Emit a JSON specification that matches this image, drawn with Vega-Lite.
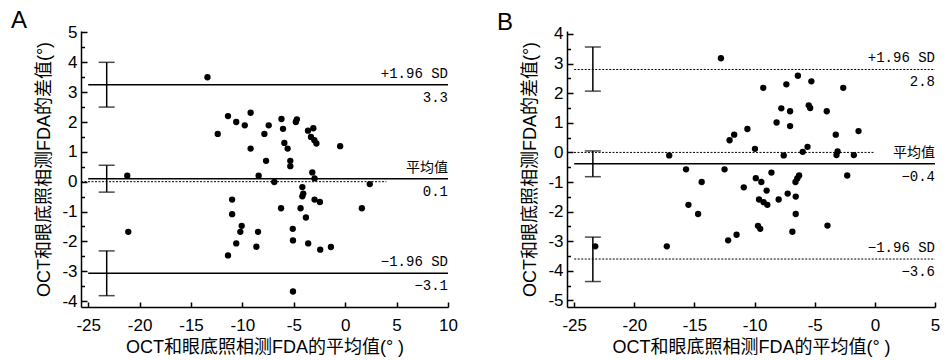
{
  "$schema": "https://vega.github.io/schema/vega-lite/v6.json",
  "background": "white",
  "padding": {"left": 10, "top": 9, "right": 5, "bottom": 5},
  "bounds": "flush",
  "spacing": 119,
  "datasets": {
    "ptsA": [
      {"mean": -13.4, "diff": 3.5}, {"mean": -11.4, "diff": 2.2}, {"mean": -10.6, "diff": 2.0}, {"mean": -9.2, "diff": 2.31},
      {"mean": -9.77, "diff": 1.89}, {"mean": -12.4, "diff": 1.6}, {"mean": -9.2, "diff": 1.11}, {"mean": -7.86, "diff": 1.6},
      {"mean": -7.44, "diff": 1.89}, {"mean": -6.2, "diff": 2.1}, {"mean": -6.05, "diff": 1.77}, {"mean": -4.7, "diff": 2.09},
      {"mean": -4.8, "diff": 2.0}, {"mean": -5.92, "diff": 1.3}, {"mean": -5.6, "diff": 1.11}, {"mean": -3.62, "diff": 1.71},
      {"mean": -3.1, "diff": 1.79}, {"mean": -3.33, "diff": 1.5}, {"mean": -3.0, "diff": 1.39}, {"mean": -2.8, "diff": 1.28},
      {"mean": -0.49, "diff": 1.19}, {"mean": -7.7, "diff": 0.7}, {"mean": -5.34, "diff": 0.7}, {"mean": -5.34, "diff": 0.52},
      {"mean": -3.2, "diff": 0.31}, {"mean": -2.98, "diff": 0.11}, {"mean": -8.42, "diff": 0.2}, {"mean": -21.2, "diff": 0.2},
      {"mean": -6.9, "diff": -0.01}, {"mean": 2.39, "diff": -0.08}, {"mean": -4.17, "diff": -0.18}, {"mean": -4.08, "diff": -0.4},
      {"mean": -4.17, "diff": -0.49}, {"mean": -11.0, "diff": -0.6}, {"mean": -2.98, "diff": -0.6}, {"mean": -2.46, "diff": -0.68},
      {"mean": -11.0, "diff": -1.09}, {"mean": -6.24, "diff": -0.89}, {"mean": -4.34, "diff": -0.89}, {"mean": -3.82, "diff": -1.2},
      {"mean": 1.62, "diff": -0.89}, {"mean": -10.07, "diff": -1.48}, {"mean": -10.2, "diff": -1.68}, {"mean": -8.48, "diff": -1.68},
      {"mean": -21.1, "diff": -1.68}, {"mean": -5.1, "diff": -1.58}, {"mean": -10.6, "diff": -2.07}, {"mean": -8.64, "diff": -2.18},
      {"mean": -11.4, "diff": -2.47}, {"mean": -5.08, "diff": -1.97}, {"mean": -3.6, "diff": -2.07}, {"mean": -2.43, "diff": -2.28},
      {"mean": -1.39, "diff": -2.19}, {"mean": -5.08, "diff": -3.68}
    ],
    "ptsB": [
      {"mean": -12.8, "diff": 3.18}, {"mean": -9.28, "diff": 2.18}, {"mean": -7.36, "diff": 2.3}, {"mean": -6.4, "diff": 2.59},
      {"mean": -5.28, "diff": 2.4}, {"mean": -2.63, "diff": 2.18}, {"mean": -7.78, "diff": 1.49}, {"mean": -7.05, "diff": 1.39},
      {"mean": -5.5, "diff": 1.59}, {"mean": -5.38, "diff": 1.5}, {"mean": -4.0, "diff": 1.39}, {"mean": -8.17, "diff": 1.01},
      {"mean": -7.05, "diff": 0.89}, {"mean": -10.6, "diff": 0.79}, {"mean": -11.7, "diff": 0.6}, {"mean": -12.08, "diff": 0.41},
      {"mean": -3.25, "diff": 0.6}, {"mean": -1.36, "diff": 0.72}, {"mean": -9.97, "diff": 0.12}, {"mean": -5.6, "diff": 0.19},
      {"mean": -6.0, "diff": 0.02}, {"mean": -7.58, "diff": -0.1}, {"mean": -17.1, "diff": -0.1}, {"mean": -3.1, "diff": 0.03},
      {"mean": -3.19, "diff": -0.09}, {"mean": -1.75, "diff": -0.09}, {"mean": -15.7, "diff": -0.57}, {"mean": -12.5, "diff": -0.57},
      {"mean": -8.6, "diff": -0.68}, {"mean": -9.9, "diff": -0.87}, {"mean": -6.3, "diff": -0.78}, {"mean": -6.45, "diff": -0.88},
      {"mean": -6.6, "diff": -1.0}, {"mean": -2.3, "diff": -0.78}, {"mean": -14.4, "diff": -1.0}, {"mean": -9.44, "diff": -1.0},
      {"mean": -10.9, "diff": -1.18}, {"mean": -9.0, "diff": -1.29}, {"mean": -9.63, "diff": -1.59}, {"mean": -9.25, "diff": -1.68},
      {"mean": -8.94, "diff": -1.77}, {"mean": -8.0, "diff": -1.59}, {"mean": -7.25, "diff": -1.39}, {"mean": -6.58, "diff": -1.49},
      {"mean": -6.58, "diff": -2.08}, {"mean": -15.5, "diff": -1.77}, {"mean": -14.7, "diff": -2.08}, {"mean": -9.72, "diff": -2.48},
      {"mean": -9.53, "diff": -2.58}, {"mean": -6.86, "diff": -2.68}, {"mean": -3.94, "diff": -2.47}, {"mean": -12.2, "diff": -2.97},
      {"mean": -11.5, "diff": -2.78}, {"mean": -17.3, "diff": -3.17}, {"mean": -23.25, "diff": -3.17}
    ],
    "solidA": [
      {"line": "upper", "value": 3.25, "from": -25, "to": 10},
      {"line": "mean", "value": 0.1, "from": -25, "to": 10},
      {"line": "lower", "value": -3.07, "from": -25, "to": 10}
    ],
    "dottedA": [
      {"line": "zero", "value": 0, "from": -25.7, "to": 4}
    ],
    "solidB": [
      {"line": "mean", "value": -0.38, "from": -25, "to": 5}
    ],
    "dottedB": [
      {"line": "upper", "value": 2.8, "from": -25, "to": 5},
      {"line": "zero", "value": 0, "from": -25.6, "to": 0},
      {"line": "lower", "value": -3.6, "from": -25, "to": 5}
    ],
    "ciA": [
      {"pos": -23.2, "lo": 2.5, "hi": 4.0},
      {"pos": -23.2, "lo": -0.35, "hi": 0.55},
      {"pos": -23.2, "lo": -3.82, "hi": -2.32}
    ],
    "ciB": [
      {"pos": -23.45, "lo": 2.07, "hi": 3.56},
      {"pos": -23.45, "lo": -0.82, "hi": 0.05},
      {"pos": -23.45, "lo": -4.36, "hi": -2.86}
    ],
    "labA": [
      {"value": 3.25, "name": "+1.96 SD", "num": "3.3"},
      {"value": 0.1, "name": "平均值", "num": "0.1"},
      {"value": -3.07, "name": "−1.96 SD", "num": "−3.1"}
    ],
    "labB": [
      {"value": 2.8, "name": "+1.96 SD", "num": "2.8"},
      {"value": -0.38, "name": "平均值", "num": "−0.4"},
      {"value": -3.6, "name": "−1.96 SD", "num": "−3.6"}
    ]
  },
  "hconcat": [
    {
      "width": 367,
      "height": 276,
      "title": {"text": "A", "anchor": "start", "frame": "bounds", "fontSize": 24, "fontWeight": "normal", "font": "Liberation Sans", "color": "black", "dx": -25, "dy": 10, "offset": 0},
      "layer": [
        {
          "data": {"name": "ptsA"},
          "mark": {"type": "circle", "color": "black", "opacity": 1, "size": 40},
          "encoding": {
            "x": {"field": "mean", "type": "quantitative", "title": "OCT和眼底照相测FDA的平均值(° )", "scale": {"domain": [-25.7, 10], "nice": false, "zero": false},
              "axis": {"values": [-25, -20, -15, -10, -5, 0, 5, 10], "labelExpr": "'' + datum.value", "tickSize": -5, "labelOverlap": false}},
            "y": {"field": "diff", "type": "quantitative", "title": "OCT和眼底照相测FDA的差值(°)", "scale": {"domain": [-4.2, 5.05], "nice": false, "zero": false},
              "axis": {"values": [-4, -3.5, -3, -2.5, -2, -1.5, -1, -0.5, 0, 0.5, 1, 1.5, 2, 2.5, 3, 3.5, 4, 4.5, 5], "labelExpr": "datum.value % 1 === 0 ? '' + datum.value : ''", "tickSize": {"condition": {"test": "datum.value % 1 === 0", "value": -6}, "value": -3.5}, "labelOverlap": false}}
          }
        },
        {
          "data": {"name": "solidA"},
          "mark": {"type": "rule", "color": "black", "strokeWidth": 1.5},
          "encoding": {
            "x": {"field": "from", "type": "quantitative", "title": "OCT和眼底照相测FDA的平均值(° )",
              "axis": {"values": [-25, -20, -15, -10, -5, 0, 5, 10], "labelExpr": "'' + datum.value", "tickSize": -5, "labelOverlap": false}},
            "x2": {"field": "to"},
            "y": {"field": "value", "type": "quantitative", "title": "OCT和眼底照相测FDA的差值(°)",
              "axis": {"values": [-4, -3.5, -3, -2.5, -2, -1.5, -1, -0.5, 0, 0.5, 1, 1.5, 2, 2.5, 3, 3.5, 4, 4.5, 5], "labelExpr": "datum.value % 1 === 0 ? '' + datum.value : ''", "tickSize": {"condition": {"test": "datum.value % 1 === 0", "value": -6}, "value": -3.5}, "labelOverlap": false}}
          }
        },
        {
          "data": {"name": "dottedA"},
          "mark": {"type": "rule", "color": "black", "strokeWidth": 1, "strokeDash": [2, 1.5]},
          "encoding": {
            "x": {"field": "from", "type": "quantitative", "title": "OCT和眼底照相测FDA的平均值(° )",
              "axis": {"values": [-25, -20, -15, -10, -5, 0, 5, 10], "labelExpr": "'' + datum.value", "tickSize": -5, "labelOverlap": false}},
            "x2": {"field": "to"},
            "y": {"field": "value", "type": "quantitative", "title": "OCT和眼底照相测FDA的差值(°)",
              "axis": {"values": [-4, -3.5, -3, -2.5, -2, -1.5, -1, -0.5, 0, 0.5, 1, 1.5, 2, 2.5, 3, 3.5, 4, 4.5, 5], "labelExpr": "datum.value % 1 === 0 ? '' + datum.value : ''", "tickSize": {"condition": {"test": "datum.value % 1 === 0", "value": -6}, "value": -3.5}, "labelOverlap": false}}
          }
        },
        {
          "data": {"name": "ciA"},
          "mark": {"type": "errorbar", "color": "black", "ticks": {"size": 16, "thickness": 1.5, "color": "black"}, "rule": {"strokeWidth": 1.5}},
          "encoding": {
            "x": {"field": "pos", "type": "quantitative", "title": "OCT和眼底照相测FDA的平均值(° )",
              "axis": {"values": [-25, -20, -15, -10, -5, 0, 5, 10], "labelExpr": "'' + datum.value", "tickSize": -5, "labelOverlap": false}},
            "y": {"field": "lo", "type": "quantitative", "title": "OCT和眼底照相测FDA的差值(°)",
              "axis": {"values": [-4, -3.5, -3, -2.5, -2, -1.5, -1, -0.5, 0, 0.5, 1, 1.5, 2, 2.5, 3, 3.5, 4, 4.5, 5], "labelExpr": "datum.value % 1 === 0 ? '' + datum.value : ''", "tickSize": {"condition": {"test": "datum.value % 1 === 0", "value": -6}, "value": -3.5}, "labelOverlap": false}},
            "y2": {"field": "hi"}
          }
        },
        {
          "data": {"name": "labA"},
          "mark": {"type": "text", "align": "right", "baseline": "bottom", "dy": -4, "fontSize": 14, "font": "'Liberation Mono', 'Noto Sans CJK SC'", "color": "black"},
          "encoding": {
            "x": {"value": "width"},
            "y": {"field": "value", "type": "quantitative", "title": "OCT和眼底照相测FDA的差值(°)",
              "axis": {"values": [-4, -3.5, -3, -2.5, -2, -1.5, -1, -0.5, 0, 0.5, 1, 1.5, 2, 2.5, 3, 3.5, 4, 4.5, 5], "labelExpr": "datum.value % 1 === 0 ? '' + datum.value : ''", "tickSize": {"condition": {"test": "datum.value % 1 === 0", "value": -6}, "value": -3.5}, "labelOverlap": false}},
            "text": {"field": "name"}
          }
        },
        {
          "data": {"name": "labA"},
          "mark": {"type": "text", "align": "right", "baseline": "top", "dy": 6, "fontSize": 14, "font": "'Liberation Mono', 'Noto Sans CJK SC'", "color": "black"},
          "encoding": {
            "x": {"value": "width"},
            "y": {"field": "value", "type": "quantitative", "title": "OCT和眼底照相测FDA的差值(°)",
              "axis": {"values": [-4, -3.5, -3, -2.5, -2, -1.5, -1, -0.5, 0, 0.5, 1, 1.5, 2, 2.5, 3, 3.5, 4, 4.5, 5], "labelExpr": "datum.value % 1 === 0 ? '' + datum.value : ''", "tickSize": {"condition": {"test": "datum.value % 1 === 0", "value": -6}, "value": -3.5}, "labelOverlap": false}},
            "text": {"field": "num"}
          }
        }
      ]
    },
    {
      "width": 368,
      "height": 276,
      "title": {"text": "B", "anchor": "start", "frame": "bounds", "fontSize": 24, "fontWeight": "normal", "font": "Liberation Sans", "color": "black", "dx": -25, "dy": 10, "offset": 0},
      "layer": [
        {
          "data": {"name": "ptsB"},
          "mark": {"type": "circle", "color": "black", "opacity": 1, "size": 40},
          "encoding": {
            "x": {"field": "mean", "type": "quantitative", "title": "OCT和眼底照相测FDA的平均值(° )", "scale": {"domain": [-25.6, 5], "nice": false, "zero": false},
              "axis": {"values": [-25, -20, -15, -10, -5, 0, 5], "labelExpr": "'' + datum.value", "tickSize": -5, "labelOverlap": false}},
            "y": {"field": "diff", "type": "quantitative", "title": "OCT和眼底照相测FDA的差值(°)", "scale": {"domain": [-5.22, 4.1], "nice": false, "zero": false},
              "axis": {"values": [-5, -4.5, -4, -3.5, -3, -2.5, -2, -1.5, -1, -0.5, 0, 0.5, 1, 1.5, 2, 2.5, 3, 3.5, 4], "labelExpr": "datum.value % 1 === 0 ? '' + datum.value : ''", "tickSize": {"condition": {"test": "datum.value % 1 === 0", "value": -6}, "value": -3.5}, "labelOverlap": false}}
          }
        },
        {
          "data": {"name": "solidB"},
          "mark": {"type": "rule", "color": "black", "strokeWidth": 1.5},
          "encoding": {
            "x": {"field": "from", "type": "quantitative", "title": "OCT和眼底照相测FDA的平均值(° )",
              "axis": {"values": [-25, -20, -15, -10, -5, 0, 5], "labelExpr": "'' + datum.value", "tickSize": -5, "labelOverlap": false}},
            "x2": {"field": "to"},
            "y": {"field": "value", "type": "quantitative", "title": "OCT和眼底照相测FDA的差值(°)",
              "axis": {"values": [-5, -4.5, -4, -3.5, -3, -2.5, -2, -1.5, -1, -0.5, 0, 0.5, 1, 1.5, 2, 2.5, 3, 3.5, 4], "labelExpr": "datum.value % 1 === 0 ? '' + datum.value : ''", "tickSize": {"condition": {"test": "datum.value % 1 === 0", "value": -6}, "value": -3.5}, "labelOverlap": false}}
          }
        },
        {
          "data": {"name": "dottedB"},
          "mark": {"type": "rule", "color": "black", "strokeWidth": 1, "strokeDash": [2, 1.5]},
          "encoding": {
            "x": {"field": "from", "type": "quantitative", "title": "OCT和眼底照相测FDA的平均值(° )",
              "axis": {"values": [-25, -20, -15, -10, -5, 0, 5], "labelExpr": "'' + datum.value", "tickSize": -5, "labelOverlap": false}},
            "x2": {"field": "to"},
            "y": {"field": "value", "type": "quantitative", "title": "OCT和眼底照相测FDA的差值(°)",
              "axis": {"values": [-5, -4.5, -4, -3.5, -3, -2.5, -2, -1.5, -1, -0.5, 0, 0.5, 1, 1.5, 2, 2.5, 3, 3.5, 4], "labelExpr": "datum.value % 1 === 0 ? '' + datum.value : ''", "tickSize": {"condition": {"test": "datum.value % 1 === 0", "value": -6}, "value": -3.5}, "labelOverlap": false}}
          }
        },
        {
          "data": {"name": "ciB"},
          "mark": {"type": "errorbar", "color": "black", "ticks": {"size": 16, "thickness": 1.5, "color": "black"}, "rule": {"strokeWidth": 1.5}},
          "encoding": {
            "x": {"field": "pos", "type": "quantitative", "title": "OCT和眼底照相测FDA的平均值(° )",
              "axis": {"values": [-25, -20, -15, -10, -5, 0, 5], "labelExpr": "'' + datum.value", "tickSize": -5, "labelOverlap": false}},
            "y": {"field": "lo", "type": "quantitative", "title": "OCT和眼底照相测FDA的差值(°)",
              "axis": {"values": [-5, -4.5, -4, -3.5, -3, -2.5, -2, -1.5, -1, -0.5, 0, 0.5, 1, 1.5, 2, 2.5, 3, 3.5, 4], "labelExpr": "datum.value % 1 === 0 ? '' + datum.value : ''", "tickSize": {"condition": {"test": "datum.value % 1 === 0", "value": -6}, "value": -3.5}, "labelOverlap": false}},
            "y2": {"field": "hi"}
          }
        },
        {
          "data": {"name": "labB"},
          "mark": {"type": "text", "align": "right", "baseline": "bottom", "dy": -4, "fontSize": 14, "font": "'Liberation Mono', 'Noto Sans CJK SC'", "color": "black"},
          "encoding": {
            "x": {"value": "width"},
            "y": {"field": "value", "type": "quantitative", "title": "OCT和眼底照相测FDA的差值(°)",
              "axis": {"values": [-5, -4.5, -4, -3.5, -3, -2.5, -2, -1.5, -1, -0.5, 0, 0.5, 1, 1.5, 2, 2.5, 3, 3.5, 4], "labelExpr": "datum.value % 1 === 0 ? '' + datum.value : ''", "tickSize": {"condition": {"test": "datum.value % 1 === 0", "value": -6}, "value": -3.5}, "labelOverlap": false}},
            "text": {"field": "name"}
          }
        },
        {
          "data": {"name": "labB"},
          "mark": {"type": "text", "align": "right", "baseline": "top", "dy": 6, "fontSize": 14, "font": "'Liberation Mono', 'Noto Sans CJK SC'", "color": "black"},
          "encoding": {
            "x": {"value": "width"},
            "y": {"field": "value", "type": "quantitative", "title": "OCT和眼底照相测FDA的差值(°)",
              "axis": {"values": [-5, -4.5, -4, -3.5, -3, -2.5, -2, -1.5, -1, -0.5, 0, 0.5, 1, 1.5, 2, 2.5, 3, 3.5, 4], "labelExpr": "datum.value % 1 === 0 ? '' + datum.value : ''", "tickSize": {"condition": {"test": "datum.value % 1 === 0", "value": -6}, "value": -3.5}, "labelOverlap": false}},
            "text": {"field": "num"}
          }
        }
      ]
    }
  ],
  "config": {
    "view": {"stroke": null},
    "font": "Liberation Sans",
    "axis": {
      "grid": false,
      "ticks": true,
      "labelFlush": false,
      "domainColor": "black",
      "domainWidth": 1.5,
      "tickColor": "black",
      "tickWidth": 1.5,
      "labelColor": "black",
      "labelFontSize": 17,
      "labelFont": "Liberation Sans",
      "titleFont": "'Liberation Sans', 'Noto Sans CJK SC'",
      "titleFontSize": 18,
      "titleFontWeight": "normal",
      "titleColor": "black"
    },
    "axisX": {"labelPadding": 15, "titlePadding": 5},
    "axisY": {"labelPadding": 10, "titlePadding": 8}
  }
}
